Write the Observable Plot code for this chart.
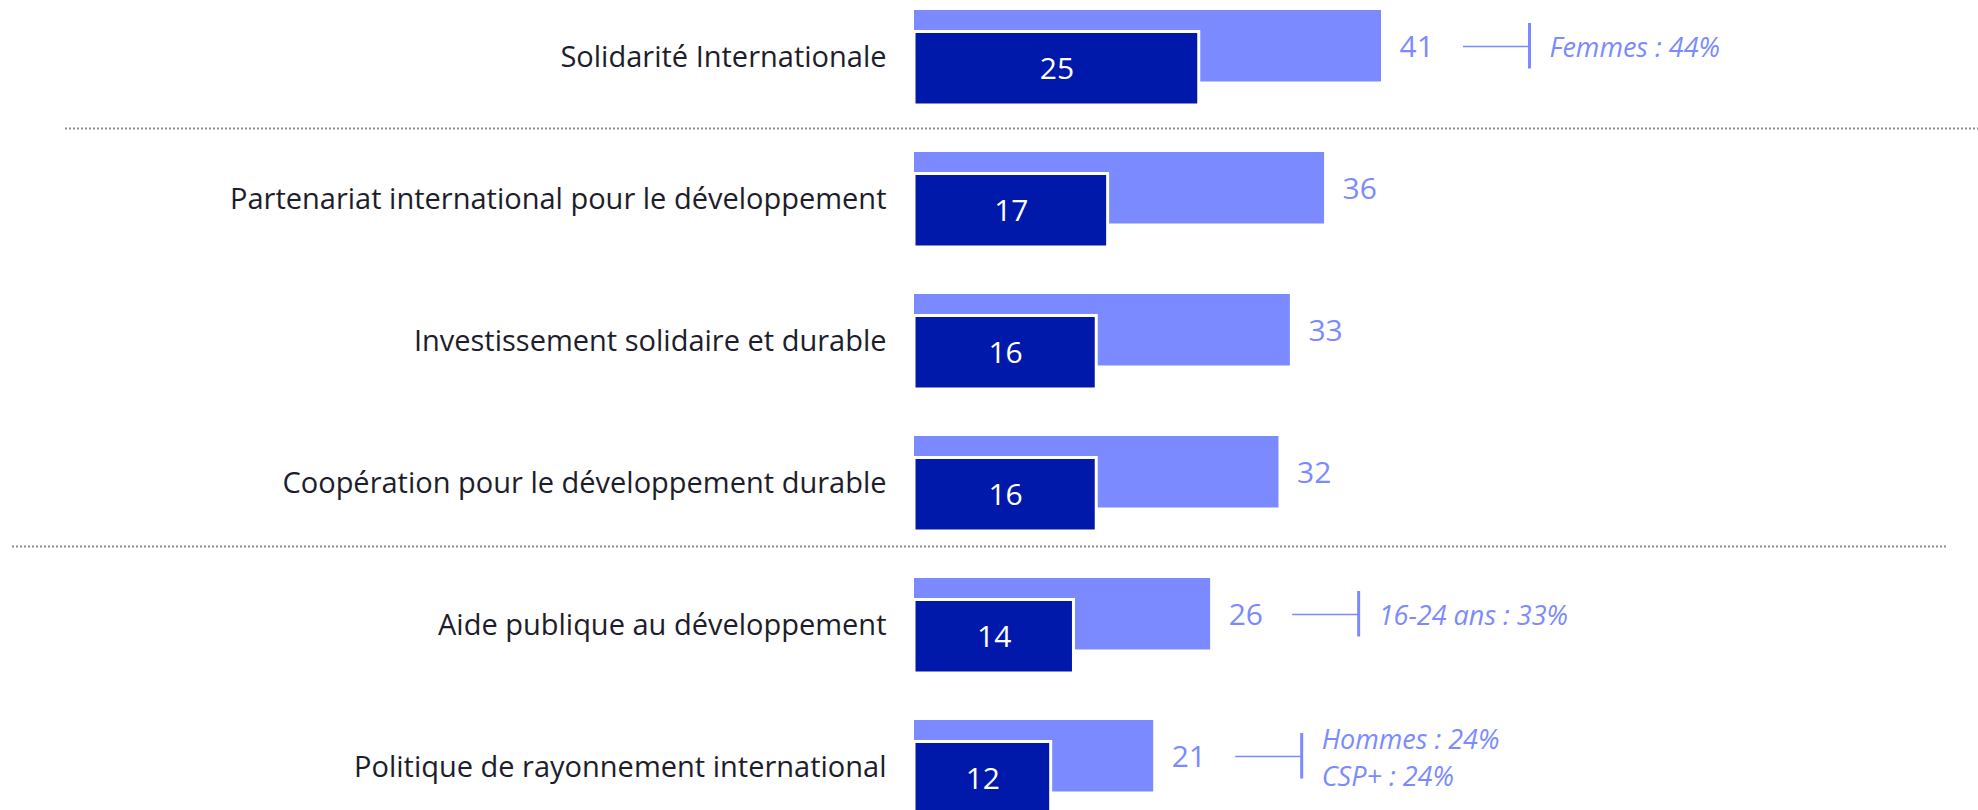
<!DOCTYPE html>
<html>
<head>
<meta charset="utf-8">
<script src="https://cdn.jsdelivr.net/npm/d3@7"></script>
<script src="https://cdn.jsdelivr.net/npm/@observablehq/plot@0.6"></script>
<style>
  html, body { margin: 0; padding: 0; background: #ffffff; overflow: hidden; }
  #chart svg { display: block; }
</style>
</head>
<body>
<div id="chart"></div>
<script>
// ---- data ----
const categories = [
  "Solidarité Internationale",
  "Partenariat international pour le développement",
  "Investissement solidaire et durable",
  "Coopération pour le développement durable",
  "Aide publique au développement",
  "Politique de rayonnement international"
];
const totalValues = [41, 36, 33, 32, 26, 21];   // light bars
const firstValues = [25, 17, 16, 16, 14, 12];   // dark bars

const annotationCategories = [
  "Solidarité Internationale",
  "Aide publique au développement",
  "Politique de rayonnement international"
];
const annotationTexts = [
  "Femmes : 44%",
  "16-24 ans : 33%",
  "Hommes : 24%\nCSP+ : 24%"
];
const separatorBefore = [
  "Partenariat international pour le développement",
  "Aide publique au développement"
];

// ---- tables built from the arrays ----
const rows = categories.map((c, i) => ({category: c, total: totalValues[i], first: firstValues[i]}));
const annotations = annotationCategories.map((c, i) => ({
  category: c,
  total: totalValues[categories.indexOf(c)],
  text: annotationTexts[i]
}));

const LIGHT = "#7b8bff";
const DARK = "#0019ab";
const FONT = "'Open Sans', 'DejaVu Sans', sans-serif";

const chart = Plot.plot({
  width: 1978,
  height: 810,
  marginLeft: 0,
  marginRight: 0,
  marginTop: 0,
  marginBottom: 0,
  style: {fontFamily: FONT, background: "#ffffff"},
  x: {domain: [0, 41], range: [914, 1381], axis: null},
  y: {type: "band", domain: categories, range: [-16, 839], padding: 0, axis: null},
  marks: [
    // dotted separators
    Plot.ruleY([separatorBefore[0]], {y: d => d, dy: -71, insetLeft: 65, insetRight: 0,
      stroke: "#8c8c8c", strokeWidth: 2, strokeDasharray: "2,2"}),
    Plot.ruleY([separatorBefore[1]], {y: d => d, dy: -79, insetLeft: 12, insetRight: 32,
      stroke: "#8c8c8c", strokeWidth: 2, strokeDasharray: "2,2"}),
    // light bars (total)
    Plot.barX(rows, {x: "total", y: "category", fill: LIGHT, insetTop: 24, insetBottom: 46.5}),
    // dark bars
    Plot.barX(rows, {x: "first", y: "category", fill: DARK, stroke: "#ffffff", strokeWidth: 3,
      insetTop: 45.5, insetBottom: 23}),
    // category labels
    Plot.text(rows, {x: 0, y: "category", text: "category", textAnchor: "end", dx: -28, dy: 0,
      fontSize: 29, fill: "#1d1d2b"}),
    // light values
    Plot.text(rows, {x: "total", y: "category", text: d => String(d.total), textAnchor: "start",
      dx: 18, dy: -10, fontSize: 30, fill: LIGHT}),
    // dark values
    Plot.text(rows, {x: d => d.first / 2, y: "category", text: d => String(d.first),
      dy: 12, fontSize: 30, fill: "#ffffff"}),
    // annotation connectors
    Plot.ruleY(annotations, {y: "category", x1: "total", x2: "total", insetLeft: 82, insetRight: -148,
      dy: -11, stroke: LIGHT, strokeWidth: 1.5}),
    Plot.tickX(annotations, {x: "total", y: "category", dx: 148, insetTop: 37, insetBottom: 59.5,
      stroke: LIGHT, strokeWidth: 3}),
    Plot.text(annotations, {x: "total", y: "category", text: "text", textAnchor: "start",
      dx: 168, dy: -12, fontSize: 27, fontStyle: "italic", fill: LIGHT, lineHeight: 1.37})
  ]
});
document.getElementById("chart").appendChild(chart);
</script>
</body>
</html>
